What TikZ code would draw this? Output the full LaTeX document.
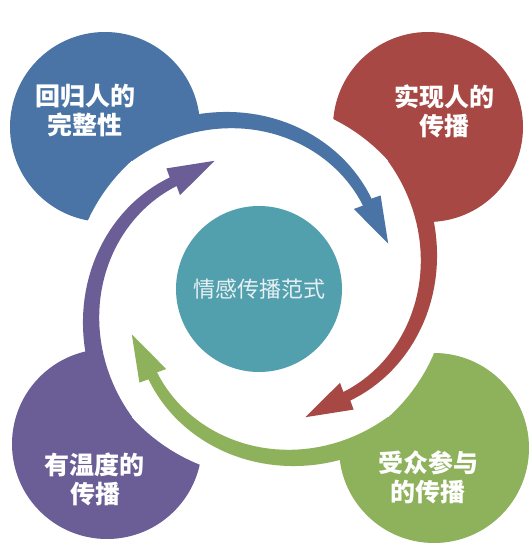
\documentclass[tikz,border=0pt]{standalone}
\usepackage{fontspec}
\newfontfamily\cjk{Noto Sans CJK SC}
\usetikzlibrary{positioning, calc}

\definecolor{cBlue}{HTML}{4A74A5}
\definecolor{cRed}{HTML}{A84844}
\definecolor{cGreen}{HTML}{8EB15C}
\definecolor{cPurple}{HTML}{6B5D96}
\definecolor{cTeal}{HTML}{52A0AE}
\definecolor{cCore}{HTML}{E6F0F2}

\begin{document}
\begin{tikzpicture}[
  x=1pt, y=1pt,
  bubble/.style={circle, inner sep=0pt, minimum size=190pt},
  caption/.style={text=white, align=center, font=\cjk\bfseries\fontsize{25}{29}\selectfont},
  declare function={ctr(\t)=138+0.55*(\t-39); wid(\t)=11+0.09*(\t-39); halo(\t)=177+0.17*(\t-20);}
]
\useasboundingbox (0,0) rectangle (532,552);

% Circles
\node[bubble, fill=cBlue] (hui) at (105,425) {};
\node[bubble, fill=cRed] (shi) at (428,425) {};
\node[bubble, fill=cGreen] (shou) at (434,104) {};
\node[bubble, fill=cPurple] (you) at (107,108) {};

% Centre of the cycle
\coordinate (mid) at (260,263);

% White gaps round the arrows
\foreach \rot in {0,-90,-180,-270}
  \fill[white, shift={(mid)}, rotate=\rot] (0,0)
    -- plot[domain=100:5, samples=40] (\x:{halo(\x)}) -- cycle;

% Arrows
\foreach \rot/\col in {0/cBlue, -90/cRed, -180/cGreen, -270/cPurple}
  \fill[\col, shift={(mid)}, rotate=\rot]
    plot[domain=135:39, samples=40] (\x:{ctr(\x)+wid(\x)/2})
    -- (120.6,93.6) -- (128.2,45.4) -- (93.8,80)
    -- plot[domain=39:135, samples=40] (\x:{ctr(\x)-wid(\x)/2}) -- cycle;

% Centre circle
\node[bubble, minimum size=166pt, fill=cTeal, text=cCore,
  font=\cjk\fontsize{22}{26}\selectfont] (core) at (259,263) {情感传播范式};

% Labels
\node[caption] (huiT) at (85,441) {回归人的\\完整性};
\node[caption] (shiT) at (444,441) {实现人的\\传播};
\node[caption] (shouT) at (428,75) {受众参与\\的传播};
\node[caption] (youT) at (95,73) {有温度的\\传播};

\end{tikzpicture}
\end{document}
